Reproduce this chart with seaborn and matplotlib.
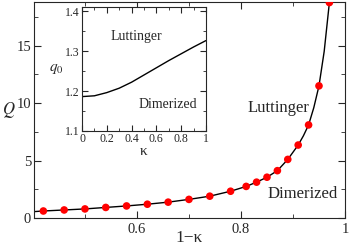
import numpy as np
import matplotlib
matplotlib.use('Agg')
import matplotlib.pyplot as plt
import seaborn as sns
from matplotlib.ticker import MultipleLocator

sns.set_style('ticks')
plt.rcParams['font.family'] = ['Liberation Serif', 'DejaVu Serif']
plt.rcParams['mathtext.fontset'] = 'stix'

# main panel: Q vs 1-kappa (points and guide curve)
one_minus_k = [0.42, 0.46, 0.50, 0.54, 0.58, 0.62, 0.66, 0.70, 0.74, 0.78,
               0.81, 0.83, 0.85, 0.87, 0.89, 0.91, 0.93, 0.95, 0.97]
q_points = [0.61, 0.70, 0.79, 0.92, 1.05, 1.20, 1.38, 1.62, 1.90, 2.33,
            2.75, 3.12, 3.55, 4.12, 5.10, 6.35, 8.10, 11.5, 18.75]
curve_x = [0.40, 0.42, 0.46, 0.50, 0.54, 0.58, 0.62, 0.66, 0.70, 0.74, 0.78,
           0.81, 0.83, 0.85, 0.87, 0.89, 0.91, 0.92, 0.93, 0.94, 0.95, 0.96, 0.97]
curve_q = [0.55, 0.61, 0.70, 0.79, 0.92, 1.05, 1.20, 1.38, 1.62, 1.90, 2.33,
           2.75, 3.12, 3.55, 4.12, 5.10, 6.35, 7.15, 8.10, 9.60, 11.5, 14.5, 18.75]

# inset: q0 vs kappa
kappa = [0.0, 0.1, 0.2, 0.3, 0.4, 0.5, 0.6, 0.7, 0.8, 0.9, 1.0]
q0 = [1.186, 1.188, 1.196, 1.207, 1.222, 1.240, 1.258, 1.276, 1.293, 1.310, 1.326]

fig = plt.figure(figsize=(3.49, 2.46), dpi=100)
ax = fig.add_axes([0.0974, 0.1138, 0.8911, 0.8781])

sns.lineplot(x=curve_x, y=curve_q, ax=ax, color='black', lw=1.0)
sns.scatterplot(x=one_minus_k, y=q_points, ax=ax, color='#ff0000', s=30,
                edgecolor='none', zorder=3)
ax.set_xlim(0.402, 1.0)
ax.set_ylim(0, 18.8)
ax.xaxis.set_major_locator(MultipleLocator(0.2))
ax.xaxis.set_minor_locator(MultipleLocator(0.1))
ax.yaxis.set_major_locator(MultipleLocator(5))
ax.yaxis.set_minor_locator(MultipleLocator(2.5))
ax.set_xticks([0.6, 0.8, 1.0])
ax.set_xticklabels(['0.6', '0.8', '1'])
ax.tick_params(which='both', direction='in', top=True, right=True, labelsize=10.5)
ax.tick_params(axis='y', pad=2)
ax.tick_params(which='major', length=5)
ax.tick_params(which='minor', length=3)
ax.set_xlabel('1\u2212\u03ba', fontsize=12.5, va='center')
ax.xaxis.set_label_coords(0.5, -0.093)
ax.set_ylabel('$Q$', fontsize=12, rotation=0, ha='center', va='center')
ax.yaxis.set_label_coords(-0.08, 0.5)
ax.text(0.785, 0.51, 'Luttinger', transform=ax.transAxes, fontsize=12,
        ha='center', va='center')
ax.text(0.865, 0.11, 'Dimerized', transform=ax.transAxes, fontsize=12,
        ha='center', va='center')

# inset
axi = fig.add_axes([0.235, 0.4675, 0.355, 0.504])
sns.lineplot(x=kappa, y=q0, ax=axi, color='black', lw=1.0)
axi.set_xlim(0, 1)
axi.set_ylim(1.1, 1.41)
axi.xaxis.set_major_locator(MultipleLocator(0.2))
axi.xaxis.set_minor_locator(MultipleLocator(0.1))
axi.yaxis.set_major_locator(MultipleLocator(0.1))
axi.yaxis.set_minor_locator(MultipleLocator(0.05))
axi.set_xticks([0, 0.2, 0.4, 0.6, 0.8, 1.0])
axi.set_xticklabels(['0', '0.2', '0.4', '0.6', '0.8', '1'])
axi.tick_params(which='both', direction='in', top=True, right=True, labelsize=8.5)
axi.tick_params(axis='x', pad=1.5)
axi.tick_params(axis='y', pad=2)
axi.tick_params(which='major', length=4)
axi.tick_params(which='minor', length=2)
axi.set_xlabel('\u03ba', fontsize=11, labelpad=0)
axi.set_ylabel('$q_{\\mathit{0}}$', fontsize=11, rotation=0, ha='center', va='center')
axi.yaxis.set_label_coords(-0.21, 0.5)
axi.text(0.44, 0.76, 'Luttinger', fontsize=10, transform=axi.transAxes,
         ha='center', va='center')
axi.text(0.69, 0.216, 'Dimerized', fontsize=10, transform=axi.transAxes,
         ha='center', va='center')

fig.savefig('out.png', dpi=100)
